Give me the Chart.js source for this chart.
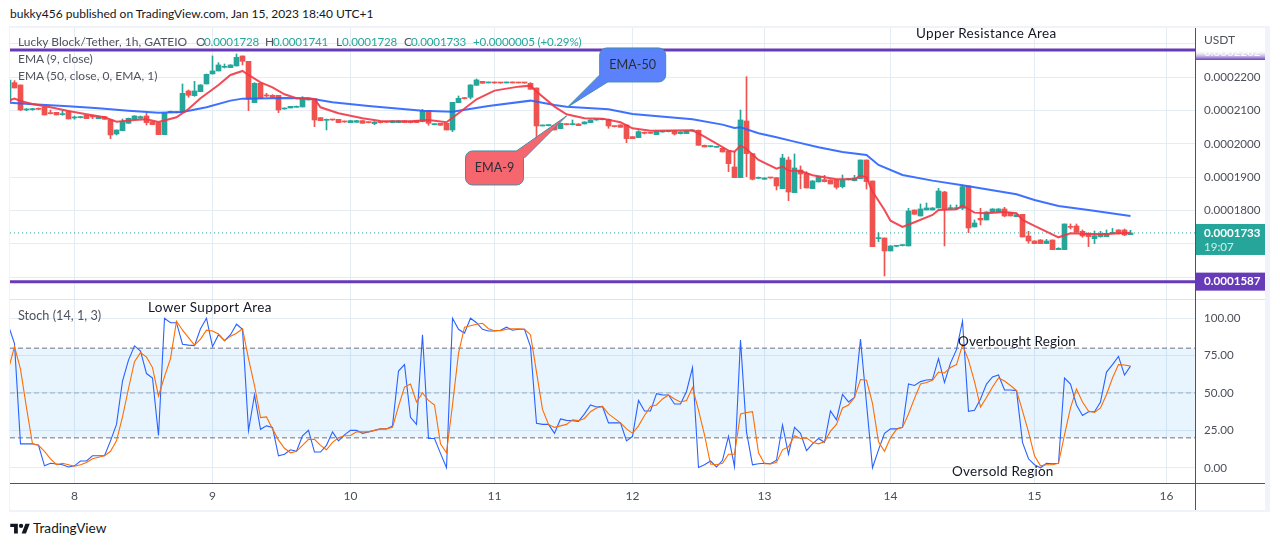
<!DOCTYPE html>
<html>
<head>
<meta charset="utf-8">
<script src="https://cdn.jsdelivr.net/npm/chart.js@4"></script>
<style>
html,body{margin:0;padding:0;background:#fff;width:1280px;height:546px;overflow:hidden;font-family:Lato,"Open Sans",sans-serif}
canvas{position:absolute;display:block}
.t{position:absolute;white-space:nowrap;line-height:16px;font-size:12px;color:#50535e}
.v{color:#26a69a;font-size:11.6px;letter-spacing:-.15px}
.a{color:#131722;font-size:13.5px;letter-spacing:.25px}
.l{position:absolute;background:#50535e}
.b{position:absolute;background:#f0f3fa}
</style>
</head>
<body>
<div class="b" style="left:9px;top:26px;width:1261px;height:2px"></div>
<div class="b" style="left:9px;top:510px;width:1261px;height:2px"></div>
<div class="b" style="left:9px;top:26px;width:1px;height:486px"></div>
<div class="b" style="left:1265px;top:26px;width:5px;height:486px"></div>
<canvas id="price" style="left:10px;top:28px" width="1255" height="271"></canvas>
<div style="position:absolute;left:10px;top:299px;width:1255px;height:1px;background:#e0e3eb"></div>
<canvas id="stoch" style="left:10px;top:300px" width="1255" height="210"></canvas>
<div class="l" style="left:1195px;top:28px;width:1px;height:482px"></div>
<div class="l" style="left:10px;top:483px;width:1255px;height:1px"></div>

<div class="t" style="left:10px;top:6px;color:#131722;font-size:12px">bukky456 published on TradingView.com, Jan 15, 2023 18:40 UTC+1</div>
<div class="t" style="left:18px;top:34px">Lucky Block/Tether, 1h, GATEIO</div>
<div class="t" style="left:196px;top:34px">O</div><div class="t v" style="left:204px;top:34px">0.0001728</div>
<div class="t" style="left:265px;top:34px">H</div><div class="t v" style="left:273px;top:34px">0.0001741</div>
<div class="t" style="left:336px;top:34px">L</div><div class="t v" style="left:342px;top:34px">0.0001728</div>
<div class="t" style="left:404px;top:34px">C</div><div class="t v" style="left:411px;top:34px">0.0001733</div>
<div class="t v" style="left:473px;top:34px">+0.0000005 (+0.29%)</div>
<div class="t" style="left:18px;top:51px">EMA (9, close)</div>
<div class="t" style="left:18px;top:68px">EMA (50, close, 0, EMA, 1)</div>
<div class="t" style="left:18px;top:307px;font-size:12.7px">Stoch (14, 1, 3)</div>
<div class="t" style="left:1204px;top:32px;color:#50535e">USDT</div>
<div class="t a" style="left:916px;top:25px;letter-spacing:.35px">Upper Resistance Area</div>
<div class="t a" style="left:148px;top:299px;letter-spacing:.35px">Lower Support Area</div>
<div class="t a" style="left:958px;top:333px;letter-spacing:.13px">Overbought Region</div>
<div class="t a" style="left:952px;top:463px">Oversold Region</div>
<svg style="position:absolute;left:10px;top:522px" width="20" height="13" viewBox="0 0 36 24"><path fill="#131722" d="M14 3H0v6h7v12h7V3Zm15 18h-8l7-18h8l-7 18Zm-9-10a4 4 0 1 0 0-8 4 4 0 0 0 0 8Z"/></svg>
<div class="t" style="left:33px;top:520px;color:#131722;font-size:13.6px">TradingView</div>

<script>
// Prices are in units of 0.0000001 USDT. The first candle (index -1) is cut by the left edge.
const candleStart = -1;
const candleOpen = [2127,
2184,2177,2102,2103,2107,2110,2092,2095,2088,2097,
2078,2079,2086,2082,2076,2082,2072,2030,2040,2062,
2074,2077,2084,2067,2064,2028,2095,2095,2094,2159,
2145,2157,2180,2210,2219,2230,2229,2234,2264,2248,
2124,2182,2146,2146,2146,2105,2108,2110,2111,2132,
2136,2079,2071,2073,2074,2068,2064,2065,2070,2065,
2061,2065,2067,2064,2064,2069,2068,2070,2067,2100,
2058,2062,2062,2042,2124,2138,2140,2176,2188,2183,
2185,2184,2183,2185,2184,2184,2182,2168,2054,2055,
2056,2046,2060,2058,2060,2060,2064,2072,2073,2074,
2053,2057,2057,2022,2019,2033,2034,2028,2036,2037,
2039,2031,2031,2039,2041,1996,1992,1990,1987,1979,
1931,1899,2069,1971,1897,1894,1899,1899,1866,1952,
1854,1922,1912,1866,1886,1893,1892,1892,1872,1893,
1890,1896,1952,1889,1716,1718,1679,1693,1695,1694,
1802,1784,1802,1802,1808,1856,1806,1806,1807,1874,
1751,1777,1772,1796,1796,1805,1794,1782,1789,1724,
1709,1712,1701,1712,1683,1683,1752,1754,1738,1732,
1716,1722,1722,1732,1742,1742,1728];
const candleClose = [2192,
2168,2102,2105,2105,2104,2087,2091,2087,2090,2075,
2080,2080,2076,2081,2082,2074,2027,2042,2067,2077,
2084,2082,2064,2058,2028,2092,2097,2094,2152,2146,
2159,2177,2209,2219,2237,2233,2237,2260,2248,2134,
2182,2137,2144,2140,2102,2107,2113,2113,2137,2136,
2072,2070,2073,2072,2064,2066,2070,2070,2062,2064,
2066,2064,2065,2069,2069,2064,2064,2064,2100,2062,
2060,2056,2042,2125,2137,2136,2177,2192,2182,2185,
2183,2183,2185,2183,2183,2183,2164,2054,2056,2057,
2042,2062,2058,2060,2055,2066,2072,2073,2074,2054,
2052,2050,2016,2016,2037,2032,2032,2038,2037,2038,
2030,2036,2039,2040,1996,1991,1993,1992,1976,1941,
1899,2072,1971,1894,1899,1898,1898,1874,1958,1856,
1928,1910,1868,1889,1902,1887,1880,1870,1892,1895,
1898,1952,1887,1692,1718,1679,1694,1695,1697,1799,
1789,1805,1808,1808,1859,1804,1808,1808,1872,1748,
1763,1772,1796,1805,1805,1784,1784,1788,1721,1709,
1701,1701,1709,1683,1687,1760,1750,1735,1724,1722,
1725,1729,1732,1734,1731,1727,1733];
const candleHigh = [2192,
2190,2177,2106,2107,2108,2110,2102,2095,2100,2097,
2084,2083,2086,2086,2083,2083,2072,2042,2075,2078,
2085,2084,2092,2068,2064,2092,2099,2097,2180,2162,
2188,2178,2210,2264,2244,2240,2238,2270,2264,2248,
2184,2182,2152,2148,2146,2108,2113,2114,2142,2138,
2136,2079,2075,2074,2074,2069,2071,2071,2070,2066,
2067,2066,2068,2070,2070,2070,2069,2071,2104,2100,
2061,2062,2062,2125,2144,2140,2178,2195,2188,2186,
2186,2185,2186,2186,2185,2185,2184,2168,2057,2058,
2057,2063,2061,2072,2061,2067,2073,2074,2075,2075,
2054,2058,2057,2022,2040,2036,2035,2039,2038,2039,
2040,2037,2040,2041,2042,1997,1994,1993,1988,1979,
1977,2102,2202,1971,1901,1899,1900,1899,1969,1961,
1970,1934,1917,1890,1903,1906,1893,1893,1907,1897,
1906,1952,1952,1889,1734,1718,1695,1696,1698,1807,
1802,1820,1823,1809,1867,1858,1817,1817,1876,1874,
1772,1807,1797,1806,1806,1810,1795,1790,1789,1738,
1710,1713,1714,1712,1689,1760,1760,1760,1742,1734,
1739,1738,1742,1747,1743,1745,1741];
const candleLow = [2125,
2168,2100,2100,2101,2103,2087,2090,2087,2086,2075,
2074,2078,2076,2076,2076,2074,2016,2027,2040,2062,
2074,2077,2057,2058,2028,2028,2094,2093,2094,2140,
2143,2157,2180,2210,2219,2228,2229,2234,2237,2100,
2124,2137,2142,2140,2094,2104,2108,2110,2111,2132,
2052,2070,2042,2071,2064,2065,2064,2065,2062,2063,
2058,2063,2064,2064,2064,2064,2063,2064,2066,2056,
2057,2056,2042,2037,2124,2135,2135,2176,2182,2183,
2182,2182,2183,2183,2183,2182,2164,2004,2054,2054,
2042,2046,2057,2057,2055,2060,2064,2071,2072,2047,
2051,2050,2004,2016,2019,2030,2031,2028,2035,2036,
2027,2030,2031,2038,1996,1991,1991,1990,1976,1917,
1899,1899,1902,1892,1896,1894,1897,1862,1866,1830,
1854,1866,1868,1866,1886,1886,1880,1865,1868,1892,
1889,1896,1865,1692,1707,1604,1679,1692,1694,1694,
1789,1784,1802,1802,1808,1694,1804,1804,1803,1734,
1751,1757,1772,1796,1796,1782,1784,1782,1721,1702,
1701,1701,1701,1683,1683,1683,1745,1735,1720,1692,
1701,1720,1722,1731,1730,1725,1728];

const ema9Index = [-1,0,1,3,6,9,12,15,17,20,22,24,27,29,31,34,36,38,39,41,43,45,47,50,51,54,58,61,66,69,72,74,77,80,84,86,87,90,92,95,98,101,103,106,113,115,119,120,121,122,124,127,128,129,131,133,135,137,140,141,142,143,145,146,148,150,153,154,157,158,160,162,165,167,168,170,174,176,179,182,186];
const ema9Values = [2130,2136,2129,2120,2110,2099,2089,2080,2067,2072,2074,2066,2080,2105,2137,2177,2207,2219,2207,2185,2170,2149,2137,2135,2110,2092,2077,2069,2068,2072,2065,2092,2134,2160,2172,2175,2157,2112,2089,2077,2076,2065,2047,2040,2041,2022,1980,1977,1995,1985,1952,1926,1932,1920,1919,1906,1900,1894,1894,1905,1900,1857,1802,1770,1751,1765,1787,1802,1804,1815,1794,1792,1796,1792,1772,1754,1720,1732,1730,1730,1734];
const ema50Index = [-1,3,9,14,19,24,28,32,36,38,45,49,53,59,68,73,79,86,90,92,99,103,113,118,120,121,124,127,130,134,138,142,144,148,153,158,162,167,170,174,179,186];
const ema50Values = [2124,2119,2113,2107,2100,2094,2096,2110,2130,2136,2138,2137,2125,2114,2100,2097,2114,2130,2117,2112,2104,2090,2074,2058,2048,2050,2032,2020,2007,1990,1976,1967,1937,1907,1890,1876,1864,1849,1832,1814,1802,1784];

const priceLevels = [2282, 1587];
const lastPrice = 1733;
const priceTicks = [2300,2200,2100,2000,1900,1800,1700,1600];
const dayTicks = [10,33,56,80,103,125,146,170,192];
const dayLabels = ['8','9','10','11','12','13','14','15','16'];

const stochStart = -1;
const stochK = [95,
83,16,16,16,15,1.3,3,2.5,2,0.5,
1.3,4.5,4.5,8,8,8,18,29,58,72,
81.5,78,63,60,21.6,100,97,97,82.6,82,
81.7,93,100,81,89,85,89,96,92.6,24.8,
48.7,25.7,28,27,8,9,12,11,21.4,25,
10.5,10.5,15,24,18,22,25,25,23,24,
25,26,26,28,64.7,69,33.7,29,89,19.6,
19.6,9.6,0,100,92.6,90,100,97,92.6,91.5,
91.5,92,94,92,92.6,92.6,81,29.7,29,29,
23,32.6,31.7,31.5,31,36,42,40.6,41,30,
30,30,18,21,45,38,38,49.6,48.7,48.7,
42.6,42.6,51,67,0.2,2,4.5,0.5,5,21,
0.7,85.5,24,2,2.7,3,2.7,5,28.6,9,
27,23,11.4,16,19.6,17,38,32,49,44,
47,86,43,0,12,23,26,26,27,56,
55,57.6,58.7,59,73,57,70,79,98,37.7,
38.4,46,56,60.7,62,52,52,51.6,17,6,
2,0,3,2.7,3,60,56,42,35,37.5,
37.5,44,64,69,74.5,62,68];
const stochD = [66,
81,66,40,16,15,11,6,2,3,2,
1,2,3.5,6,7,8,11,18,34,53,
71,77,74,67,48,61,73,98,92,87,
82,86,92,91.5,89.5,85,88,90,93,73,
55,33.5,34,26,18.5,13,10,11,15,19,
19,15,12,17,20,21.4,21.6,24,24,24,
25,26,26,27,41,54,56,44,50,45,
42,16,10,42,76.5,94,95,96,96.6,93,
91.7,91.7,92.6,93,93,92.6,89,64,39,29,
27,28,29,32,31.5,33,37.5,40,41,36,
33,30,26,23,28,35,41,42,46,48.7,
46,44,45,53.6,38.6,22,2.5,2,3,9,
9,36,37,37.5,10,2.7,2.5,3.6,12,14,
21.4,19.6,20,17,16,17.4,24.5,29,40,42,
47,59,58.5,43,17.4,11,20,25.7,27,36,
46.4,56,57,58.5,64,63.4,67,69,82,72,
57.6,40.6,47,54,60,58,55,51.6,38,24,
8,1.3,2,2,3,22,40,52.7,44,38,
37,40,49,60,69,68.7,68];
const stochTicks = [0,25,50,75,100];
const stochBand = [20, 80];
const stochMid = 50;

const calloutEma50 = {text:'EMA-50', index:92.2, price:2111};
const calloutEma9  = {text:'EMA-9',  index:92,   price:2084};

const UP='#26a69a', DOWN='#ef5350', PURPLE='#673ab7', GRID='#e4ecf4';
const FONT='Lato, "Open Sans", sans-serif';
const TICK_SIZE=11.6;
const X_MIN=-0.75, X_MAX=196.75;
const fmtPrice=v=>(v/1e7).toFixed(7);
const pts=(xs,ys)=>xs.map((x,i)=>({x,y:ys[i]}));
const span=v=>[{x:X_MIN,y:v},{x:X_MAX,y:v}];
const candleColor=candleOpen.map((o,i)=>candleClose[i]>=o?UP:DOWN);

function xScale(showLabels){
  return {type:'linear',min:X_MIN,max:X_MAX,offset:false,
    grid:{color:GRID,drawTicks:false,offset:false},border:{display:false},
    afterBuildTicks:s=>{s.ticks=dayTicks.map(v=>({value:v}));},
    afterFit:s=>{s.height=showLabels?27:0;s.paddingLeft=0;s.paddingRight=0;s.paddingTop=0;s.paddingBottom=0;},
    ticks:{display:showLabels,autoSkip:false,maxRotation:0,padding:6,color:'#4a4e59',font:{family:FONT,size:12},
      callback:v=>dayLabels[dayTicks.indexOf(v)]}};
}
function yFit(s){s.width=70;s.paddingTop=0;s.paddingBottom=0;s.paddingLeft=0;s.paddingRight=0;}
const lineDefaults={pointRadius:0,tension:0,fill:false};

function callout(ctx,chart,c,box,tail,fill,size){
  const tx=chart.scales.x.getPixelForValue(c.index), ty=chart.scales.y.getPixelForValue(c.price);
  const x=tx+box[0],y=ty+box[1],w=box[2],h=box[3],r=7;
  ctx.save();
  ctx.beginPath();
  ctx.roundRect(x,y,w,h,r);
  ctx.fillStyle=fill;ctx.strokeStyle='#3f8fa8';ctx.lineWidth=1;
  ctx.fill();ctx.stroke();
  ctx.beginPath();
  ctx.moveTo(tx,ty);ctx.lineTo(tx+tail[0],ty+tail[1]);ctx.lineTo(tx+tail[2],ty+tail[3]);ctx.closePath();
  ctx.fill();
  ctx.beginPath();
  ctx.moveTo(tx+tail[0],ty+tail[1]);ctx.lineTo(tx,ty);ctx.lineTo(tx+tail[2],ty+tail[3]);ctx.stroke();
  ctx.fillStyle='#2a2e39';ctx.font=size+'px '+FONT;ctx.textAlign='center';ctx.textBaseline='middle';
  ctx.fillText(c.text,x+w/2,y+h/2);
  ctx.restore();
}

const priceOverlay={id:'priceOverlay',afterDraw(chart){
  const ctx=chart.ctx,y=chart.scales.y,l=chart.chartArea.right,w=70;
  callout(ctx,chart,calloutEma50,[32,-59,66,34],[32,-32,40,-25],'#5b82fb',12.6);
  callout(ctx,chart,calloutEma9,[-101,35,58,34],[-50,35,-42,42],'#f6666f',12.6);
  ctx.save();
  ctx.textAlign='left';ctx.textBaseline='middle';
  const yu=y.getPixelForValue(priceLevels[0]);
  const g=ctx.createLinearGradient(0,yu,0,yu+10);
  g.addColorStop(0,'rgba(255,255,255,0)');g.addColorStop(1,PURPLE);
  ctx.fillStyle=g;ctx.fillRect(l,yu,w,10);
  ctx.save();ctx.beginPath();ctx.rect(l,yu,w,10);ctx.clip();
  ctx.fillStyle='rgba(255,255,255,.95)';ctx.font=TICK_SIZE+'px '+FONT;ctx.fillText(fmtPrice(priceLevels[0]),l+9,yu+2);
  ctx.restore();
  const yl=y.getPixelForValue(lastPrice);
  ctx.fillStyle=UP;ctx.fillRect(l,yl-9,w,31);
  ctx.fillStyle='#fff';ctx.font='bold '+TICK_SIZE+'px '+FONT;ctx.fillText(fmtPrice(lastPrice),l+9,yl);
  ctx.fillStyle='rgba(255,255,255,.8)';ctx.font=TICK_SIZE+'px '+FONT;ctx.fillText('19:07',l+9,yl+14);
  const yb=y.getPixelForValue(priceLevels[1]);
  ctx.fillStyle=PURPLE;ctx.fillRect(l,yb-9,w,18);
  ctx.fillStyle='#fff';ctx.font='bold '+TICK_SIZE+'px '+FONT;ctx.fillText(fmtPrice(priceLevels[1]),l+9,yb);
  ctx.restore();
}};

new Chart(document.getElementById('price'),{
  type:'bar',
  data:{datasets:[
    {type:'line',data:span(lastPrice),borderColor:UP,borderWidth:1,borderDash:[1,3],order:6,...lineDefaults},
    {type:'bar',grouped:false,data:candleLow.map((v,i)=>({x:i+candleStart,y:[v,candleHigh[i]]})),backgroundColor:candleColor,barThickness:1,order:5},
    {type:'bar',grouped:false,data:candleOpen.map((v,i)=>({x:i+candleStart,y:[v,candleClose[i]]})),backgroundColor:candleColor,barThickness:5,minBarLength:1,order:4},
    {type:'line',data:pts(ema50Index,ema50Values),borderColor:'rgba(41,98,255,.9)',borderWidth:2,order:3,...lineDefaults},
    {type:'line',data:pts(ema9Index,ema9Values),borderColor:'rgba(242,54,69,.9)',borderWidth:2,order:2,...lineDefaults},
    {type:'line',data:span(priceLevels[0]),borderColor:PURPLE,borderWidth:3,order:1,...lineDefaults},
    {type:'line',data:span(priceLevels[1]),borderColor:PURPLE,borderWidth:3,order:1,...lineDefaults}
  ]},
  options:{responsive:false,animation:false,devicePixelRatio:1,
    layout:{padding:0,autoPadding:false},
    plugins:{legend:{display:false},tooltip:{enabled:false}},
    scales:{
      x:xScale(false),
      y:{type:'linear',position:'right',min:1534.9,max:2347.9,
        grid:{color:GRID,drawTicks:false},border:{display:false},
        afterBuildTicks:s=>{s.ticks=priceTicks.map(v=>({value:v}));},
        afterFit:yFit,
        ticks:{padding:9,color:'#4a4e59',font:{family:FONT,size:TICK_SIZE},
          callback:v=>v===priceTicks[0]?'':fmtPrice(v)}}
    }},
  plugins:[priceOverlay]
});

new Chart(document.getElementById('stoch'),{
  type:'line',
  data:{datasets:[
    {data:span(stochBand[1]),borderColor:'#6f7280',borderWidth:1,borderDash:[5,3],pointRadius:0,order:5,
      fill:{target:{value:stochBand[0]}},backgroundColor:'rgba(33,150,243,.1)'},
    {data:span(stochBand[0]),borderColor:'#6f7280',borderWidth:1,borderDash:[5,3],order:5,...lineDefaults},
    {data:span(stochMid),borderColor:'rgba(120,123,134,.6)',borderWidth:1,borderDash:[5,3],order:5,...lineDefaults},
    {data:stochK.map((v,i)=>({x:i+stochStart,y:v})),borderColor:'#2962ff',borderWidth:1.1,order:2,...lineDefaults},
    {data:stochD.map((v,i)=>({x:i+stochStart,y:v})),borderColor:'#ff6d00',borderWidth:1.1,order:1,...lineDefaults}
  ]},
  options:{responsive:false,animation:false,devicePixelRatio:1,
    layout:{padding:0,autoPadding:false},
    plugins:{legend:{display:false},tooltip:{enabled:false}},
    scales:{
      x:xScale(true),
      y:{type:'linear',position:'right',min:-10.2,max:112.2,
        grid:{color:GRID,drawTicks:false},border:{display:false},
        afterBuildTicks:s=>{s.ticks=stochTicks.map(v=>({value:v}));},
        afterFit:yFit,
        ticks:{padding:9,color:'#4a4e59',font:{family:FONT,size:TICK_SIZE},callback:v=>v.toFixed(2)}}
    }}
});
</script>
</body>
</html>
